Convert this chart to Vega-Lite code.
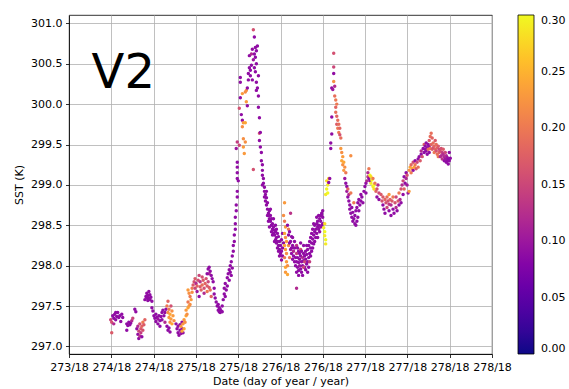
{
"$schema": "https://vega.github.io/schema/vega-lite/v6.json",
"width": 423, "height": 339,
"autosize": "none",
"padding": {"left": 69, "top": 15, "right": 77, "bottom": 35},
"background": "white",
"config": {
  "font": "DejaVu Sans",
  "view": {"stroke": "black", "strokeWidth": 0.8},
  "axis": {"gridColor": "#b0b0b0", "gridWidth": 0.8, "gridOpacity": 1, "domainColor": "black", "domainWidth": 0.8, "tickColor": "black", "tickWidth": 0.8, "tickSize": 3.5, "labelFontSize": 11, "labelColor": "black", "labelPadding": 3.5, "titleFontSize": 11, "titleFontWeight": "normal", "titleColor": "black", "labelFlush": false, "labelOverlap": false, "zindex": 1}
},
"layer": [
{
"data": {"values": [
{"day":274.005,"sst":297.30,"v":0.16},{"day":274.005,"sst":297.17,"v":0.17},{"day":273.993,"sst":297.33,"v":0.15},{"day":274.017,"sst":297.38,"v":0.09},{"day":274.029,"sst":297.35,"v":0.09},{"day":274.040,"sst":297.40,"v":0.09},{"day":274.052,"sst":297.33,"v":0.09},{"day":274.064,"sst":297.37,"v":0.09},{"day":274.076,"sst":297.42,"v":0.09},{"day":274.088,"sst":297.36,"v":0.09},{"day":274.100,"sst":297.38,"v":0.09},{"day":274.112,"sst":297.31,"v":0.09},{"day":274.124,"sst":297.40,"v":0.09},{"day":274.135,"sst":297.36,"v":0.09},{"day":274.029,"sst":297.28,"v":0.12},{"day":274.052,"sst":297.42,"v":0.09},
{"day":274.183,"sst":297.28,"v":0.09},{"day":274.195,"sst":297.26,"v":0.09},{"day":274.207,"sst":297.30,"v":0.09},{"day":274.219,"sst":297.27,"v":0.09},{"day":274.230,"sst":297.29,"v":0.09},{"day":274.183,"sst":297.20,"v":0.09},{"day":274.242,"sst":297.32,"v":0.12},{"day":274.254,"sst":297.35,"v":0.15},{"day":274.278,"sst":297.46,"v":0.09},{"day":274.290,"sst":297.43,"v":0.09},
{"day":274.302,"sst":297.22,"v":0.09},{"day":274.314,"sst":297.15,"v":0.09},{"day":274.314,"sst":297.25,"v":0.12},{"day":274.325,"sst":297.10,"v":0.09},{"day":274.325,"sst":297.19,"v":0.15},{"day":274.337,"sst":297.13,"v":0.13},{"day":274.337,"sst":297.28,"v":0.16},{"day":274.349,"sst":297.22,"v":0.17},{"day":274.349,"sst":297.17,"v":0.14},{"day":274.361,"sst":297.25,"v":0.18},{"day":274.361,"sst":297.12,"v":0.09},{"day":274.373,"sst":297.30,"v":0.20},{"day":274.373,"sst":297.20,"v":0.16},{"day":274.385,"sst":297.27,"v":0.17},{"day":274.397,"sst":297.33,"v":0.18},
{"day":274.397,"sst":297.58,"v":0.09},{"day":274.409,"sst":297.62,"v":0.09},{"day":274.420,"sst":297.60,"v":0.09},{"day":274.420,"sst":297.66,"v":0.09},{"day":274.432,"sst":297.57,"v":0.09},{"day":274.432,"sst":297.63,"v":0.09},{"day":274.444,"sst":297.60,"v":0.09},{"day":274.444,"sst":297.68,"v":0.09},{"day":274.456,"sst":297.58,"v":0.09},{"day":274.456,"sst":297.64,"v":0.09},{"day":274.468,"sst":297.61,"v":0.09},{"day":274.480,"sst":297.56,"v":0.09},{"day":274.480,"sst":297.48,"v":0.09},{"day":274.492,"sst":297.44,"v":0.09},{"day":274.504,"sst":297.38,"v":0.09},
{"day":274.515,"sst":297.35,"v":0.09},{"day":274.527,"sst":297.31,"v":0.09},{"day":274.527,"sst":297.40,"v":0.09},{"day":274.539,"sst":297.36,"v":0.09},{"day":274.551,"sst":297.28,"v":0.09},{"day":274.551,"sst":297.34,"v":0.10},{"day":274.563,"sst":297.38,"v":0.09},{"day":274.575,"sst":297.32,"v":0.09},{"day":274.575,"sst":297.25,"v":0.09},{"day":274.587,"sst":297.37,"v":0.09},{"day":274.599,"sst":297.42,"v":0.09},{"day":274.599,"sst":297.33,"v":0.09},{"day":274.610,"sst":297.45,"v":0.09},{"day":274.622,"sst":297.38,"v":0.09},{"day":274.634,"sst":297.42,"v":0.09},{"day":274.646,"sst":297.46,"v":0.09},{"day":274.634,"sst":297.30,"v":0.12},
{"day":274.658,"sst":297.50,"v":0.20},{"day":274.670,"sst":297.42,"v":0.22},{"day":274.670,"sst":297.56,"v":0.18},{"day":274.682,"sst":297.36,"v":0.23},{"day":274.682,"sst":297.46,"v":0.20},{"day":274.694,"sst":297.40,"v":0.24},{"day":274.694,"sst":297.30,"v":0.22},{"day":274.705,"sst":297.34,"v":0.23},{"day":274.705,"sst":297.50,"v":0.16},{"day":274.717,"sst":297.28,"v":0.24},{"day":274.717,"sst":297.44,"v":0.22},{"day":274.729,"sst":297.38,"v":0.23},{"day":274.741,"sst":297.32,"v":0.22},
{"day":274.658,"sst":297.25,"v":0.09},{"day":274.670,"sst":297.20,"v":0.09},{"day":274.682,"sst":297.23,"v":0.09},{"day":274.694,"sst":297.18,"v":0.09},
{"day":274.765,"sst":297.28,"v":0.09},{"day":274.777,"sst":297.22,"v":0.09},{"day":274.789,"sst":297.17,"v":0.09},{"day":274.789,"sst":297.25,"v":0.09},{"day":274.800,"sst":297.14,"v":0.09},{"day":274.812,"sst":297.20,"v":0.09},{"day":274.812,"sst":297.27,"v":0.09},{"day":274.824,"sst":297.16,"v":0.10},{"day":274.836,"sst":297.22,"v":0.09},{"day":274.836,"sst":297.30,"v":0.09},{"day":274.848,"sst":297.17,"v":0.09},
{"day":274.824,"sst":297.25,"v":0.23},{"day":274.836,"sst":297.19,"v":0.24},{"day":274.848,"sst":297.28,"v":0.23},{"day":274.860,"sst":297.22,"v":0.24},{"day":274.860,"sst":297.33,"v":0.23},{"day":274.872,"sst":297.30,"v":0.22},{"day":274.884,"sst":297.38,"v":0.24},{"day":274.884,"sst":297.45,"v":0.23},{"day":274.895,"sst":297.40,"v":0.22},{"day":274.907,"sst":297.48,"v":0.24},{"day":274.907,"sst":297.55,"v":0.20},{"day":274.919,"sst":297.50,"v":0.23},{"day":274.931,"sst":297.52,"v":0.22},{"day":274.931,"sst":297.62,"v":0.20},{"day":274.943,"sst":297.58,"v":0.23},{"day":274.955,"sst":297.67,"v":0.22},{"day":274.955,"sst":297.72,"v":0.20},{"day":274.907,"sst":297.70,"v":0.23},{"day":274.919,"sst":297.66,"v":0.22},
{"day":274.967,"sst":297.76,"v":0.17},{"day":274.979,"sst":297.80,"v":0.16},{"day":274.990,"sst":297.72,"v":0.15},{"day":274.990,"sst":297.84,"v":0.17},{"day":275.002,"sst":297.78,"v":0.12},{"day":275.014,"sst":297.68,"v":0.10},{"day":275.014,"sst":297.75,"v":0.18},{"day":275.026,"sst":297.82,"v":0.16},{"day":275.038,"sst":297.62,"v":0.09},{"day":275.038,"sst":297.88,"v":0.15},{"day":275.050,"sst":297.74,"v":0.17},{"day":275.050,"sst":297.80,"v":0.13},{"day":275.062,"sst":297.70,"v":0.18},{"day":275.074,"sst":297.86,"v":0.16},{"day":275.074,"sst":297.76,"v":0.19},{"day":275.086,"sst":297.82,"v":0.17},{"day":275.097,"sst":297.72,"v":0.16},{"day":275.097,"sst":297.66,"v":0.12},{"day":275.109,"sst":297.78,"v":0.18},{"day":275.121,"sst":297.84,"v":0.16},{"day":275.133,"sst":297.75,"v":0.17},{"day":275.133,"sst":297.68,"v":0.20},{"day":275.145,"sst":297.80,"v":0.15},{"day":275.157,"sst":297.73,"v":0.17},{"day":275.169,"sst":297.70,"v":0.19},{"day":275.181,"sst":297.62,"v":0.18},{"day":275.157,"sst":297.90,"v":0.12},
{"day":275.133,"sst":297.90,"v":0.09},{"day":275.145,"sst":297.96,"v":0.09},{"day":275.157,"sst":297.98,"v":0.09},{"day":275.169,"sst":297.93,"v":0.09},{"day":275.181,"sst":297.88,"v":0.09},{"day":275.192,"sst":297.84,"v":0.09},{"day":275.204,"sst":297.80,"v":0.09},{"day":275.216,"sst":297.72,"v":0.09},{"day":275.216,"sst":297.65,"v":0.09},{"day":275.228,"sst":297.60,"v":0.09},{"day":275.240,"sst":297.55,"v":0.09},{"day":275.252,"sst":297.50,"v":0.09},{"day":275.264,"sst":297.45,"v":0.09},{"day":275.264,"sst":297.52,"v":0.09},{"day":275.276,"sst":297.43,"v":0.09},{"day":275.276,"sst":297.48,"v":0.09},{"day":275.287,"sst":297.42,"v":0.09},{"day":275.287,"sst":297.46,"v":0.09},{"day":275.299,"sst":297.44,"v":0.09},{"day":275.311,"sst":297.43,"v":0.09},{"day":275.311,"sst":297.50,"v":0.09},
{"day":275.323,"sst":297.58,"v":0.09},{"day":275.335,"sst":297.65,"v":0.09},{"day":275.335,"sst":297.72,"v":0.09},{"day":275.347,"sst":297.62,"v":0.09},{"day":275.347,"sst":297.78,"v":0.09},{"day":275.359,"sst":297.70,"v":0.09},{"day":275.371,"sst":297.75,"v":0.09},{"day":275.371,"sst":297.85,"v":0.09},{"day":275.382,"sst":297.90,"v":0.09},{"day":275.394,"sst":297.82,"v":0.09},{"day":275.394,"sst":297.95,"v":0.09},{"day":275.406,"sst":297.92,"v":0.09},{"day":275.406,"sst":298.00,"v":0.09},{"day":275.418,"sst":297.88,"v":0.09},{"day":275.418,"sst":298.05,"v":0.09},{"day":275.430,"sst":297.97,"v":0.09},{"day":275.430,"sst":298.12,"v":0.09},{"day":275.442,"sst":298.18,"v":0.09},{"day":275.442,"sst":298.25,"v":0.09},{"day":275.454,"sst":298.30,"v":0.09},{"day":275.454,"sst":298.38,"v":0.09},{"day":275.466,"sst":298.45,"v":0.09},{"day":275.466,"sst":298.52,"v":0.09},{"day":275.466,"sst":298.60,"v":0.09},{"day":275.477,"sst":298.68,"v":0.09},{"day":275.477,"sst":298.75,"v":0.09},{"day":275.489,"sst":298.85,"v":0.09},{"day":275.489,"sst":298.92,"v":0.09},{"day":275.501,"sst":299.05,"v":0.09},{"day":275.489,"sst":299.08,"v":0.09},{"day":275.489,"sst":299.15,"v":0.09},{"day":275.489,"sst":299.22,"v":0.09},{"day":275.489,"sst":299.28,"v":0.09},{"day":275.477,"sst":299.45,"v":0.10},{"day":275.489,"sst":299.53,"v":0.14},
{"day":275.513,"sst":299.49,"v":0.15},{"day":275.513,"sst":299.95,"v":0.16},{"day":275.525,"sst":300.08,"v":0.09},{"day":275.525,"sst":300.27,"v":0.09},{"day":275.525,"sst":300.33,"v":0.09},{"day":275.537,"sst":299.87,"v":0.09},{"day":275.549,"sst":299.80,"v":0.09},{"day":275.549,"sst":300.13,"v":0.23},{"day":275.549,"sst":299.72,"v":0.22},{"day":275.561,"sst":299.77,"v":0.23},{"day":275.561,"sst":299.47,"v":0.23},{"day":275.561,"sst":299.57,"v":0.22},{"day":275.572,"sst":299.39,"v":0.23},{"day":275.584,"sst":299.77,"v":0.24},{"day":275.584,"sst":299.53,"v":0.22},{"day":275.584,"sst":300.15,"v":0.22},{"day":275.596,"sst":300.03,"v":0.23},{"day":275.596,"sst":300.17,"v":0.22},
{"day":275.608,"sst":299.98,"v":0.09},{"day":275.608,"sst":300.20,"v":0.09},{"day":275.620,"sst":300.38,"v":0.09},{"day":275.620,"sst":300.30,"v":0.09},{"day":275.632,"sst":300.45,"v":0.09},{"day":275.632,"sst":300.60,"v":0.09},{"day":275.644,"sst":300.35,"v":0.09},{"day":275.644,"sst":300.42,"v":0.09},{"day":275.656,"sst":300.62,"v":0.12},{"day":275.656,"sst":300.48,"v":0.09},{"day":275.667,"sst":300.30,"v":0.09},{"day":275.667,"sst":300.68,"v":0.09},{"day":275.679,"sst":300.92,"v":0.16},{"day":275.679,"sst":300.55,"v":0.10},{"day":275.691,"sst":300.83,"v":0.09},{"day":275.691,"sst":300.62,"v":0.09},{"day":275.691,"sst":300.45,"v":0.09},{"day":275.703,"sst":300.70,"v":0.09},{"day":275.703,"sst":300.58,"v":0.09},{"day":275.703,"sst":300.40,"v":0.09},{"day":275.715,"sst":300.66,"v":0.09},{"day":275.715,"sst":300.50,"v":0.09},{"day":275.727,"sst":300.72,"v":0.09},{"day":275.727,"sst":300.20,"v":0.09},{"day":275.715,"sst":300.27,"v":0.09},{"day":275.715,"sst":300.17,"v":0.09},{"day":275.739,"sst":300.10,"v":0.09},{"day":275.739,"sst":300.35,"v":0.09},{"day":275.739,"sst":299.96,"v":0.09},{"day":275.679,"sst":299.19,"v":0.16},
{"day":275.751,"sst":299.83,"v":0.09},{"day":275.751,"sst":299.64,"v":0.16},{"day":275.762,"sst":299.65,"v":0.09},{"day":275.751,"sst":299.55,"v":0.09},{"day":275.762,"sst":299.47,"v":0.09},{"day":275.774,"sst":299.40,"v":0.09},{"day":275.786,"sst":299.25,"v":0.09},{"day":275.774,"sst":299.30,"v":0.09},{"day":275.786,"sst":299.18,"v":0.09},{"day":275.786,"sst":299.12,"v":0.09},{"day":275.798,"sst":299.08,"v":0.09},{"day":275.798,"sst":299.02,"v":0.09},{"day":275.810,"sst":298.97,"v":0.09},{"day":275.810,"sst":298.92,"v":0.09},{"day":275.822,"sst":298.88,"v":0.09},{"day":275.822,"sst":298.80,"v":0.09},{"day":275.834,"sst":298.84,"v":0.09},{"day":275.834,"sst":298.75,"v":0.09},{"day":275.846,"sst":298.70,"v":0.09},{"day":275.846,"sst":298.78,"v":0.09},{"day":275.857,"sst":298.65,"v":0.09},{"day":275.857,"sst":298.62,"v":0.09},{"day":275.869,"sst":298.58,"v":0.09},{"day":275.869,"sst":298.68,"v":0.09},{"day":275.881,"sst":298.55,"v":0.09},{"day":275.881,"sst":298.62,"v":0.09},{"day":275.893,"sst":298.50,"v":0.09},{"day":275.893,"sst":298.58,"v":0.09},{"day":275.905,"sst":298.45,"v":0.09},{"day":275.905,"sst":298.52,"v":0.09},{"day":275.917,"sst":298.40,"v":0.09},{"day":275.917,"sst":298.48,"v":0.09},{"day":275.929,"sst":298.38,"v":0.09},{"day":275.929,"sst":298.44,"v":0.09},{"day":275.941,"sst":298.32,"v":0.09},{"day":275.941,"sst":298.42,"v":0.09},{"day":275.952,"sst":298.35,"v":0.09},{"day":275.952,"sst":298.28,"v":0.09},{"day":275.964,"sst":298.30,"v":0.09},{"day":275.964,"sst":298.22,"v":0.09},{"day":275.976,"sst":298.25,"v":0.09},{"day":275.976,"sst":298.36,"v":0.09},{"day":275.988,"sst":298.20,"v":0.09},{"day":275.988,"sst":298.30,"v":0.09},{"day":276.000,"sst":298.15,"v":0.09},{"day":276.000,"sst":298.25,"v":0.09},{"day":276.012,"sst":298.18,"v":0.09},{"day":276.012,"sst":298.07,"v":0.09},{"day":276.024,"sst":298.22,"v":0.09},{"day":276.024,"sst":298.12,"v":0.09},
{"day":275.786,"sst":299.00,"v":0.09},{"day":275.810,"sst":298.85,"v":0.09},{"day":275.834,"sst":298.92,"v":0.09},{"day":275.846,"sst":298.62,"v":0.09},{"day":275.857,"sst":298.55,"v":0.09},{"day":275.869,"sst":298.48,"v":0.09},{"day":275.881,"sst":298.70,"v":0.09},{"day":275.893,"sst":298.42,"v":0.09},{"day":275.905,"sst":298.38,"v":0.09},{"day":275.917,"sst":298.58,"v":0.09},{"day":275.929,"sst":298.30,"v":0.09},{"day":275.941,"sst":298.50,"v":0.09},{"day":275.952,"sst":298.45,"v":0.09},{"day":275.964,"sst":298.40,"v":0.09},{"day":275.976,"sst":298.18,"v":0.09},{"day":275.988,"sst":298.12,"v":0.09},{"day":276.012,"sst":298.32,"v":0.09},{"day":276.036,"sst":298.28,"v":0.09},{"day":276.024,"sst":298.40,"v":0.09},
{"day":276.048,"sst":298.78,"v":0.23},{"day":276.036,"sst":298.62,"v":0.22},{"day":276.048,"sst":298.55,"v":0.20},{"day":276.059,"sst":298.48,"v":0.23},{"day":276.048,"sst":298.40,"v":0.24},{"day":276.059,"sst":298.35,"v":0.22},{"day":276.071,"sst":298.30,"v":0.23},{"day":276.048,"sst":298.25,"v":0.24},{"day":276.059,"sst":298.20,"v":0.23},{"day":276.071,"sst":298.15,"v":0.22},{"day":276.048,"sst":298.10,"v":0.20},{"day":276.071,"sst":298.05,"v":0.23},{"day":276.059,"sst":297.98,"v":0.24},{"day":276.083,"sst":298.00,"v":0.22},{"day":276.059,"sst":297.92,"v":0.23},{"day":276.083,"sst":297.89,"v":0.24},{"day":276.095,"sst":298.45,"v":0.20},{"day":276.095,"sst":298.25,"v":0.22},{"day":276.107,"sst":298.10,"v":0.20},{"day":276.119,"sst":298.65,"v":0.13},
{"day":276.083,"sst":298.50,"v":0.09},{"day":276.095,"sst":298.38,"v":0.09},{"day":276.107,"sst":298.42,"v":0.09},{"day":276.119,"sst":298.30,"v":0.09},{"day":276.119,"sst":298.20,"v":0.10},{"day":276.131,"sst":298.36,"v":0.09},{"day":276.131,"sst":298.15,"v":0.09},{"day":276.143,"sst":298.25,"v":0.09},{"day":276.143,"sst":298.08,"v":0.09},{"day":276.154,"sst":298.12,"v":0.09},{"day":276.154,"sst":298.18,"v":0.12},{"day":276.166,"sst":298.05,"v":0.09},{"day":276.166,"sst":298.22,"v":0.09},{"day":276.178,"sst":298.10,"v":0.09},{"day":276.178,"sst":298.00,"v":0.09},{"day":276.190,"sst":298.15,"v":0.14},{"day":276.190,"sst":297.72,"v":0.12},{"day":276.190,"sst":298.05,"v":0.09},{"day":276.202,"sst":297.98,"v":0.09},{"day":276.202,"sst":298.10,"v":0.09},{"day":276.214,"sst":297.94,"v":0.09},{"day":276.214,"sst":298.04,"v":0.09},{"day":276.214,"sst":298.18,"v":0.09},{"day":276.226,"sst":298.08,"v":0.09},{"day":276.226,"sst":298.00,"v":0.10},{"day":276.238,"sst":297.96,"v":0.09},{"day":276.238,"sst":298.12,"v":0.09},{"day":276.249,"sst":298.05,"v":0.09},{"day":276.249,"sst":297.92,"v":0.09},{"day":276.261,"sst":298.10,"v":0.12},{"day":276.261,"sst":298.00,"v":0.09},{"day":276.273,"sst":298.15,"v":0.09},{"day":276.273,"sst":298.06,"v":0.09},{"day":276.285,"sst":297.98,"v":0.09},{"day":276.285,"sst":298.12,"v":0.09},{"day":276.297,"sst":298.08,"v":0.09},{"day":276.297,"sst":298.18,"v":0.09},{"day":276.309,"sst":298.02,"v":0.09},{"day":276.309,"sst":298.14,"v":0.09},{"day":276.321,"sst":297.92,"v":0.09},{"day":276.321,"sst":298.20,"v":0.09},{"day":276.333,"sst":298.10,"v":0.09},{"day":276.333,"sst":298.25,"v":0.09},{"day":276.344,"sst":298.15,"v":0.09},{"day":276.344,"sst":298.30,"v":0.09},{"day":276.356,"sst":298.22,"v":0.09},{"day":276.356,"sst":298.35,"v":0.09},{"day":276.368,"sst":298.28,"v":0.09},{"day":276.368,"sst":298.40,"v":0.09},{"day":276.380,"sst":298.33,"v":0.09},{"day":276.380,"sst":298.45,"v":0.09},{"day":276.392,"sst":298.38,"v":0.09},{"day":276.392,"sst":298.27,"v":0.09},{"day":276.404,"sst":298.42,"v":0.09},{"day":276.404,"sst":298.50,"v":0.09},{"day":276.416,"sst":298.45,"v":0.09},{"day":276.416,"sst":298.35,"v":0.09},{"day":276.428,"sst":298.52,"v":0.09},{"day":276.428,"sst":298.40,"v":0.09},{"day":276.439,"sst":298.48,"v":0.09},{"day":276.439,"sst":298.55,"v":0.09},{"day":276.451,"sst":298.50,"v":0.09},{"day":276.451,"sst":298.45,"v":0.09},{"day":276.463,"sst":298.58,"v":0.09},{"day":276.475,"sst":298.62,"v":0.09},{"day":276.475,"sst":298.55,"v":0.09},{"day":276.487,"sst":298.65,"v":0.09},{"day":276.487,"sst":298.50,"v":0.09},{"day":276.499,"sst":298.60,"v":0.09},{"day":276.238,"sst":298.20,"v":0.16},{"day":276.273,"sst":297.98,"v":0.15},{"day":276.190,"sst":298.25,"v":0.13},
{"day":276.107,"sst":298.28,"v":0.09},{"day":276.131,"sst":298.22,"v":0.09},{"day":276.143,"sst":298.35,"v":0.09},{"day":276.166,"sst":298.30,"v":0.09},{"day":276.190,"sst":297.92,"v":0.09},{"day":276.202,"sst":298.22,"v":0.09},{"day":276.214,"sst":297.88,"v":0.09},{"day":276.226,"sst":298.15,"v":0.09},{"day":276.238,"sst":298.28,"v":0.09},{"day":276.249,"sst":298.18,"v":0.09},{"day":276.261,"sst":297.88,"v":0.09},{"day":276.273,"sst":298.25,"v":0.09},{"day":276.285,"sst":298.05,"v":0.15},{"day":276.297,"sst":297.95,"v":0.09},{"day":276.309,"sst":298.25,"v":0.09},{"day":276.321,"sst":298.05,"v":0.09},{"day":276.333,"sst":297.98,"v":0.09},{"day":276.344,"sst":298.05,"v":0.14},{"day":276.356,"sst":298.12,"v":0.09},{"day":276.368,"sst":298.18,"v":0.09},{"day":276.380,"sst":298.22,"v":0.09},{"day":276.392,"sst":298.52,"v":0.09},{"day":276.404,"sst":298.30,"v":0.09},{"day":276.428,"sst":298.60,"v":0.09},{"day":276.439,"sst":298.35,"v":0.09},{"day":276.451,"sst":298.62,"v":0.09},{"day":276.463,"sst":298.42,"v":0.09},{"day":276.475,"sst":298.48,"v":0.09},{"day":276.499,"sst":298.52,"v":0.09},
{"day":276.511,"sst":298.47,"v":0.29},{"day":276.523,"sst":298.42,"v":0.30},{"day":276.523,"sst":298.37,"v":0.29},{"day":276.534,"sst":298.32,"v":0.30},{"day":276.534,"sst":298.27,"v":0.29},{"day":276.523,"sst":298.52,"v":0.28},{"day":276.487,"sst":298.63,"v":0.09},{"day":276.499,"sst":298.68,"v":0.09},
{"day":276.534,"sst":298.88,"v":0.29},{"day":276.546,"sst":298.95,"v":0.30},{"day":276.546,"sst":299.05,"v":0.28},{"day":276.558,"sst":298.90,"v":0.30},{"day":276.558,"sst":299.00,"v":0.29},{"day":276.570,"sst":299.08,"v":0.27},{"day":276.570,"sst":299.03,"v":0.09},{"day":276.582,"sst":299.08,"v":0.09},
{"day":276.594,"sst":299.45,"v":0.09},{"day":276.594,"sst":299.52,"v":0.09},{"day":276.606,"sst":299.63,"v":0.09},{"day":276.606,"sst":299.84,"v":0.09},{"day":276.606,"sst":300.20,"v":0.09},{"day":276.618,"sst":300.18,"v":0.10},{"day":276.629,"sst":300.38,"v":0.09},{"day":276.629,"sst":300.46,"v":0.15},{"day":276.629,"sst":300.63,"v":0.16},{"day":276.629,"sst":300.28,"v":0.22},{"day":276.641,"sst":300.10,"v":0.19},{"day":276.641,"sst":300.22,"v":0.12},{"day":276.653,"sst":300.05,"v":0.20},{"day":276.653,"sst":299.96,"v":0.18},{"day":276.665,"sst":300.00,"v":0.20},{"day":276.653,"sst":299.90,"v":0.19},{"day":276.665,"sst":299.85,"v":0.18},{"day":276.677,"sst":299.80,"v":0.19},{"day":276.665,"sst":299.75,"v":0.17},{"day":276.677,"sst":299.70,"v":0.20},{"day":276.689,"sst":299.75,"v":0.19},{"day":276.689,"sst":299.65,"v":0.20},{"day":276.701,"sst":299.70,"v":0.18},{"day":276.701,"sst":299.62,"v":0.16},{"day":276.713,"sst":299.58,"v":0.19},{"day":276.713,"sst":299.45,"v":0.23},{"day":276.724,"sst":299.40,"v":0.22},{"day":276.724,"sst":299.30,"v":0.24},{"day":276.736,"sst":299.35,"v":0.23},{"day":276.736,"sst":299.25,"v":0.22},{"day":276.748,"sst":299.28,"v":0.24},{"day":276.748,"sst":299.18,"v":0.23},{"day":276.760,"sst":299.22,"v":0.22},{"day":276.772,"sst":299.15,"v":0.20},{"day":276.760,"sst":299.08,"v":0.10},{"day":276.772,"sst":299.02,"v":0.09},{"day":276.784,"sst":298.98,"v":0.09},{"day":276.784,"sst":298.92,"v":0.10},{"day":276.796,"sst":298.95,"v":0.18},{"day":276.796,"sst":298.85,"v":0.09},{"day":276.808,"sst":298.88,"v":0.12},{"day":276.808,"sst":298.80,"v":0.09},{"day":276.819,"sst":298.75,"v":0.09},{"day":276.819,"sst":298.70,"v":0.09},{"day":276.831,"sst":299.36,"v":0.22},{"day":276.831,"sst":298.65,"v":0.09},{"day":276.831,"sst":298.90,"v":0.20},{"day":276.843,"sst":298.60,"v":0.09},{"day":276.843,"sst":298.72,"v":0.09},{"day":276.855,"sst":298.55,"v":0.09},{"day":276.855,"sst":298.66,"v":0.09},{"day":276.867,"sst":298.58,"v":0.09},{"day":276.867,"sst":298.78,"v":0.20},{"day":276.879,"sst":298.52,"v":0.09},{"day":276.879,"sst":298.62,"v":0.09},{"day":276.891,"sst":298.50,"v":0.09},{"day":276.891,"sst":298.68,"v":0.09},{"day":276.903,"sst":298.55,"v":0.09},{"day":276.903,"sst":298.72,"v":0.09},{"day":276.914,"sst":298.60,"v":0.09},{"day":276.914,"sst":298.78,"v":0.09},{"day":276.926,"sst":298.68,"v":0.09},{"day":276.926,"sst":298.82,"v":0.09},{"day":276.938,"sst":298.75,"v":0.09},{"day":276.950,"sst":298.80,"v":0.09},{"day":276.950,"sst":298.88,"v":0.09},{"day":276.962,"sst":298.85,"v":0.09},{"day":276.974,"sst":298.78,"v":0.09},
{"day":276.986,"sst":298.92,"v":0.09},{"day":276.998,"sst":298.98,"v":0.09},{"day":277.010,"sst":299.02,"v":0.09},{"day":277.010,"sst":298.90,"v":0.09},{"day":277.021,"sst":299.05,"v":0.12},{"day":277.033,"sst":299.10,"v":0.14},{"day":277.033,"sst":299.15,"v":0.12},{"day":277.045,"sst":299.20,"v":0.20},{"day":277.045,"sst":299.08,"v":0.09},{"day":277.057,"sst":299.05,"v":0.09},{"day":277.057,"sst":299.12,"v":0.30},{"day":277.069,"sst":299.10,"v":0.28},{"day":277.069,"sst":299.02,"v":0.29},{"day":277.081,"sst":299.06,"v":0.30},{"day":277.093,"sst":298.98,"v":0.29},{"day":277.093,"sst":299.08,"v":0.20},{"day":277.105,"sst":299.00,"v":0.30},{"day":277.105,"sst":298.95,"v":0.28},{"day":277.116,"sst":299.02,"v":0.20},{"day":277.128,"sst":298.92,"v":0.18},{"day":277.140,"sst":298.95,"v":0.16},{"day":277.152,"sst":299.00,"v":0.12},{"day":277.164,"sst":298.90,"v":0.15},{"day":277.140,"sst":298.85,"v":0.09},{"day":277.164,"sst":298.82,"v":0.09},
{"day":277.188,"sst":298.88,"v":0.17},{"day":277.200,"sst":298.80,"v":0.16},{"day":277.211,"sst":298.75,"v":0.09},{"day":277.211,"sst":298.85,"v":0.17},{"day":277.223,"sst":298.70,"v":0.09},{"day":277.235,"sst":298.82,"v":0.18},{"day":277.235,"sst":298.65,"v":0.09},{"day":277.247,"sst":298.78,"v":0.16},{"day":277.259,"sst":298.72,"v":0.15},{"day":277.259,"sst":298.85,"v":0.19},{"day":277.271,"sst":298.80,"v":0.16},{"day":277.283,"sst":298.68,"v":0.09},{"day":277.283,"sst":298.76,"v":0.14},{"day":277.295,"sst":298.82,"v":0.18},{"day":277.306,"sst":298.62,"v":0.09},{"day":277.306,"sst":298.75,"v":0.12},{"day":277.318,"sst":298.80,"v":0.17},{"day":277.330,"sst":298.70,"v":0.09},{"day":277.330,"sst":298.85,"v":0.20},{"day":277.342,"sst":298.65,"v":0.09},{"day":277.354,"sst":298.78,"v":0.16},{"day":277.366,"sst":298.72,"v":0.12},{"day":277.366,"sst":298.85,"v":0.15},{"day":277.378,"sst":298.68,"v":0.09},{"day":277.390,"sst":298.80,"v":0.17},{"day":277.401,"sst":298.75,"v":0.09},{"day":277.401,"sst":298.90,"v":0.20},{"day":277.413,"sst":298.82,"v":0.12},{"day":277.425,"sst":298.78,"v":0.09},{"day":277.425,"sst":298.95,"v":0.16},{"day":277.437,"sst":299.00,"v":0.12},{"day":277.449,"sst":298.88,"v":0.09},{"day":277.449,"sst":299.05,"v":0.15},{"day":277.461,"sst":299.10,"v":0.09},{"day":277.461,"sst":298.95,"v":0.18},{"day":277.473,"sst":299.02,"v":0.09},{"day":277.485,"sst":299.08,"v":0.12},{"day":277.485,"sst":299.15,"v":0.09},{"day":277.496,"sst":299.00,"v":0.10},{"day":277.496,"sst":299.12,"v":0.16},{"day":277.508,"sst":298.90,"v":0.10},{"day":277.520,"sst":298.92,"v":0.23},{"day":277.283,"sst":298.88,"v":0.23},
{"day":277.520,"sst":299.18,"v":0.22},{"day":277.532,"sst":299.22,"v":0.24},{"day":277.544,"sst":299.15,"v":0.20},{"day":277.544,"sst":299.25,"v":0.18},{"day":277.556,"sst":299.20,"v":0.23},{"day":277.568,"sst":299.28,"v":0.16},{"day":277.568,"sst":299.18,"v":0.09},{"day":277.580,"sst":299.22,"v":0.24},{"day":277.591,"sst":299.25,"v":0.20},{"day":277.591,"sst":299.30,"v":0.09},{"day":277.603,"sst":299.20,"v":0.17},{"day":277.615,"sst":299.28,"v":0.15},{"day":277.627,"sst":299.32,"v":0.09},{"day":277.627,"sst":299.22,"v":0.19},{"day":277.639,"sst":299.35,"v":0.09},{"day":277.651,"sst":299.30,"v":0.17},{"day":277.663,"sst":299.38,"v":0.09},{"day":277.663,"sst":299.42,"v":0.12},{"day":277.675,"sst":299.35,"v":0.16},{"day":277.686,"sst":299.45,"v":0.09},
{"day":277.698,"sst":299.40,"v":0.09},{"day":277.698,"sst":299.50,"v":0.17},{"day":277.710,"sst":299.44,"v":0.09},{"day":277.710,"sst":299.48,"v":0.09},{"day":277.722,"sst":299.42,"v":0.09},{"day":277.722,"sst":299.52,"v":0.09},{"day":277.734,"sst":299.46,"v":0.09},{"day":277.734,"sst":299.38,"v":0.09},{"day":277.746,"sst":299.50,"v":0.09},{"day":277.746,"sst":299.44,"v":0.19},{"day":277.758,"sst":299.55,"v":0.17},{"day":277.758,"sst":299.48,"v":0.09},{"day":277.770,"sst":299.60,"v":0.19},{"day":277.770,"sst":299.45,"v":0.20},{"day":277.781,"sst":299.64,"v":0.19},{"day":277.781,"sst":299.50,"v":0.18},{"day":277.793,"sst":299.58,"v":0.18},{"day":277.793,"sst":299.44,"v":0.17},{"day":277.805,"sst":299.52,"v":0.19},{"day":277.805,"sst":299.46,"v":0.16},{"day":277.817,"sst":299.48,"v":0.18},{"day":277.817,"sst":299.40,"v":0.20},{"day":277.829,"sst":299.55,"v":0.17},{"day":277.829,"sst":299.44,"v":0.18},{"day":277.841,"sst":299.50,"v":0.19},{"day":277.841,"sst":299.42,"v":0.16},{"day":277.853,"sst":299.46,"v":0.18},{"day":277.853,"sst":299.38,"v":0.19},{"day":277.865,"sst":299.48,"v":0.17},{"day":277.865,"sst":299.35,"v":0.20},{"day":277.876,"sst":299.44,"v":0.15},{"day":277.876,"sst":299.40,"v":0.18},{"day":277.888,"sst":299.42,"v":0.16},{"day":277.888,"sst":299.35,"v":0.12},{"day":277.900,"sst":299.45,"v":0.16},{"day":277.900,"sst":299.36,"v":0.12},{"day":277.912,"sst":299.40,"v":0.14},{"day":277.912,"sst":299.32,"v":0.13},{"day":277.924,"sst":299.38,"v":0.12},{"day":277.924,"sst":299.44,"v":0.17},{"day":277.936,"sst":299.35,"v":0.12},{"day":277.936,"sst":299.30,"v":0.09},{"day":277.948,"sst":299.32,"v":0.10},{"day":277.948,"sst":299.40,"v":0.15},{"day":277.960,"sst":299.28,"v":0.09},{"day":277.960,"sst":299.36,"v":0.12},{"day":277.971,"sst":299.30,"v":0.09},{"day":277.971,"sst":299.34,"v":0.10},{"day":277.983,"sst":299.32,"v":0.09},{"day":277.983,"sst":299.26,"v":0.09},{"day":277.995,"sst":299.40,"v":0.09},{"day":277.995,"sst":299.30,"v":0.09},{"day":278.007,"sst":299.33,"v":0.09},{"day":277.758,"sst":299.40,"v":0.09}
]},
"mark": {"type": "circle", "size": 12, "opacity": 1},
"encoding": {
  "x": {"field": "day", "type": "quantitative", "scale": {"domain": [273.5, 278.5], "nice": false, "zero": false},
        "axis": {"values": [273.5, 274, 274.5, 275, 275.5, 276, 276.5, 277, 277.5, 278, 278.5], "labelExpr": "floor(datum.value) + '/18'", "title": "Date (day of year / year)", "titlePadding": 3}},
  "y": {"field": "sst", "type": "quantitative", "scale": {"domain": [296.907, 301.103], "nice": false, "zero": false},
        "axis": {"values": [297, 297.5, 298, 298.5, 299, 299.5, 300, 300.5, 301], "format": ".1f", "title": "SST (K)", "titlePadding": 6}},
  "color": {"field": "v", "type": "quantitative", "scale": {"scheme": "plasma", "domain": [0, 0.3]},
        "legend": {"orient": "none", "legendX": 449, "legendY": 0, "direction": "vertical", "gradientLength": 339, "gradientThickness": 16, "values": [0, 0.05, 0.1, 0.15, 0.2, 0.25, 0.3], "format": ".2f", "title": null, "labelFontSize": 11, "labelColor": "black", "gradientStrokeColor": "black", "gradientStrokeWidth": 0.8, "labelOffset": 7}}
}
},
{
"data": {"values": [{"label": "V2"}]},
"mark": {"type": "text", "fontSize": 48, "align": "left", "baseline": "alphabetic", "font": "DejaVu Sans", "color": "black"},
"encoding": {"x": {"datum": 273.767, "type": "quantitative"}, "y": {"datum": 300.2, "type": "quantitative"}, "text": {"field": "label"}}
}
]
}
